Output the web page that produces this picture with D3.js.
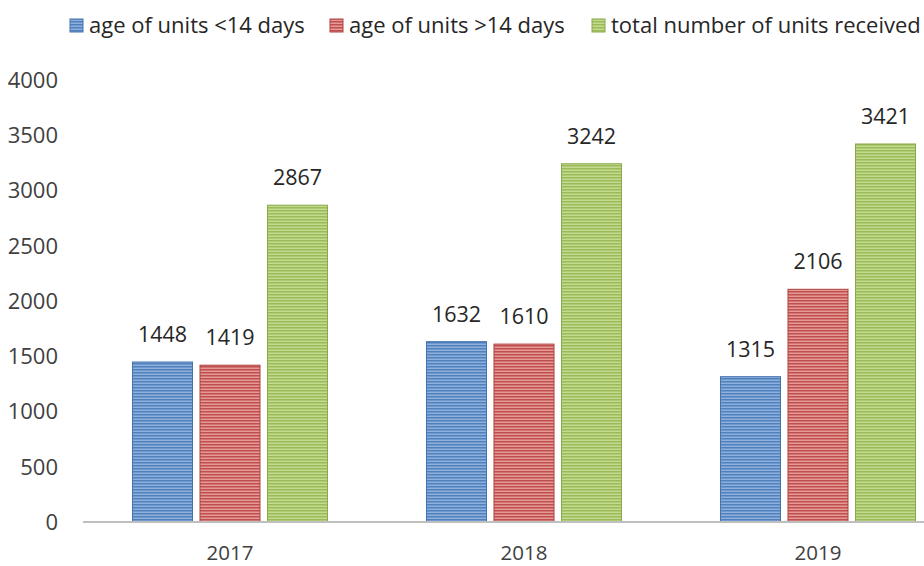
<!DOCTYPE html>
<html>
<head>
<meta charset="utf-8">
<script src="https://cdn.jsdelivr.net/npm/d3@7"></script>
<style>
  body { margin: 0; background: #fff; }
  text { font-family: "Open Sans", sans-serif; fill: #262626; }
</style>
</head>
<body>
<div class="chart"></div>
<script>
var years = ["2017", "2018", "2019"];
var seriesNames = ["age of units <14 days", "age of units >14 days", "total number of units received"];
var under14 = [1448, 1632, 1315];
var over14 = [1419, 1610, 2106];
var totalUnits = [2867, 3242, 3421];
var yTicks = [0, 500, 1000, 1500, 2000, 2500, 3000, 3500, 4000];

var baseColors = ["#4f81bd", "#c0504d", "#9bbb59"];
var lightColors = ["#8fb0dc", "#e59a98", "#c3da8f"];
var edgeColors = ["#4472b0", "#b0413e", "#89a94a"];

var svgWidth = 924;
var svgHeight = 566;

var svg = d3.select(".chart")
  .append("svg")
  .attr("width", svgWidth)
  .attr("height", svgHeight);

// striped fills
var defs = svg.append("defs");
baseColors.forEach(function(c, i) {
  var p = defs.append("pattern")
    .attr("id", "stripe" + i)
    .attr("patternUnits", "userSpaceOnUse")
    .attr("width", 8)
    .attr("height", 3);
  p.append("rect").attr("width", 8).attr("height", 3).attr("fill", lightColors[i]);
  p.append("rect").attr("width", 8).attr("height", 1.5).attr("fill", c);
});

var data = years.map(function(y, i) {
  return {year: y, values: [under14[i], over14[i], totalUnits[i]]};
});

var x0 = d3.scaleBand()
  .domain(years)
  .range([83, 965]);

var x1 = d3.scaleBand()
  .domain(d3.range(seriesNames.length))
  .range([0, x0.bandwidth()])
  .paddingInner(0.111)
  .paddingOuter(0.733);

var y = d3.scaleLinear()
  .domain([0, 4000])
  .range([522, 80]);

// y tick labels
svg.append("g")
  .selectAll("text")
  .data(yTicks)
  .enter()
  .append("text")
  .attr("x", 58)
  .attr("y", d => y(d))
  .attr("dy", "0.36em")
  .attr("text-anchor", "end")
  .style("font-size", "22px")
  .style("fill", "#404040")
  .text(d => d);

// bars
var groups = svg.selectAll(".year")
  .data(data)
  .enter()
  .append("g")
  .attr("class", "year")
  .attr("transform", d => `translate(${x0(d.year)},0)`);

groups.selectAll("rect")
  .data(d => d.values)
  .enter()
  .append("rect")
  .attr("x", (d, i) => x1(i))
  .attr("y", d => y(d))
  .attr("width", x1.bandwidth())
  .attr("height", d => y(0) - y(d))
  .attr("fill", (d, i) => `url(#stripe${i})`)
  .attr("stroke", (d, i) => edgeColors[i])
  .attr("stroke-width", 1);

groups.selectAll(".lbl")
  .data(d => d.values)
  .enter()
  .append("text")
  .attr("class", "lbl")
  .attr("x", (d, i) => x1(i) + x1.bandwidth() / 2)
  .attr("y", d => y(d) - 20)
  .attr("text-anchor", "middle")
  .style("font-size", "21.5px")
  .text(d => d);

// baseline
svg.append("line")
  .attr("x1", 83)
  .attr("x2", svgWidth)
  .attr("y1", y(0))
  .attr("y2", y(0))
  .attr("stroke", "#bfbfbf")
  .attr("stroke-width", 2);

// x labels
svg.append("g")
  .selectAll("text")
  .data(years)
  .enter()
  .append("text")
  .attr("x", d => x0(d) + x0.bandwidth() / 2)
  .attr("y", 560)
  .attr("text-anchor", "middle")
  .style("font-size", "20.5px")
  .style("fill", "#404040")
  .text(d => d);

// legend
var legendX = [70, 330, 592];
var legend = svg.append("g");
seriesNames.forEach(function(name, i) {
  legend.append("rect")
    .attr("x", legendX[i])
    .attr("y", 19)
    .attr("width", 13)
    .attr("height", 13)
    .attr("fill", `url(#stripe${i})`)
    .attr("stroke", edgeColors[i]);
  legend.append("text")
    .attr("x", legendX[i] + 19)
    .attr("y", 25)
    .attr("dy", "0.36em")
    .style("font-size", "22px")
    .text(name);
});
</script>
</body>
</html>
